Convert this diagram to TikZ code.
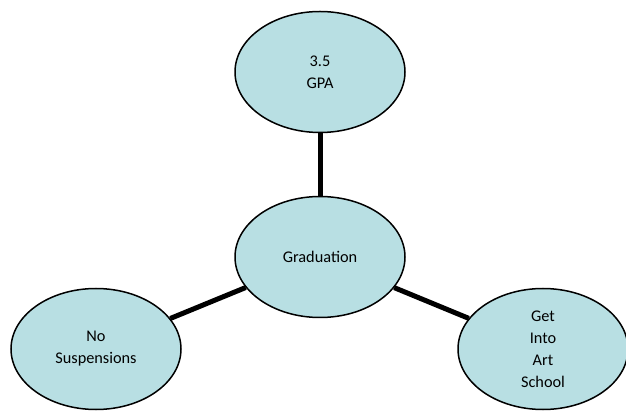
\documentclass[tikz,border=0pt]{standalone}
\usepackage{fontspec}
\setmainfont{Carlito}
\usetikzlibrary{shapes.geometric}
\definecolor{bubble}{RGB}{184,223,227}
\tikzset{
  bubblenode/.style={ellipse, draw=black, line width=1.5pt, fill=bubble,
    minimum width=170pt, minimum height=121pt, inner sep=0pt, align=center,
    font=\fontsize{16.3}{22}\selectfont},
  link/.style={line width=5pt, black}
}
\begin{document}
\begin{tikzpicture}[x=1pt,y=-1pt]
\useasboundingbox (0,0) rectangle (626,411);
\node[bubblenode] (gpa) at (320,72) {3.5\\GPA};
\node[bubblenode] (grad) at (320,257) {Graduation};
\node[bubblenode] (nosusp) at (96,349) {No\\Suspensions};
\node[bubblenode] (art) at (543,349) {Get\\Into\\Art\\School};
\draw[link] (grad) -- (gpa);
\draw[link] (grad) -- (nosusp);
\draw[link] (grad) -- (art);
\end{tikzpicture}
\end{document}
